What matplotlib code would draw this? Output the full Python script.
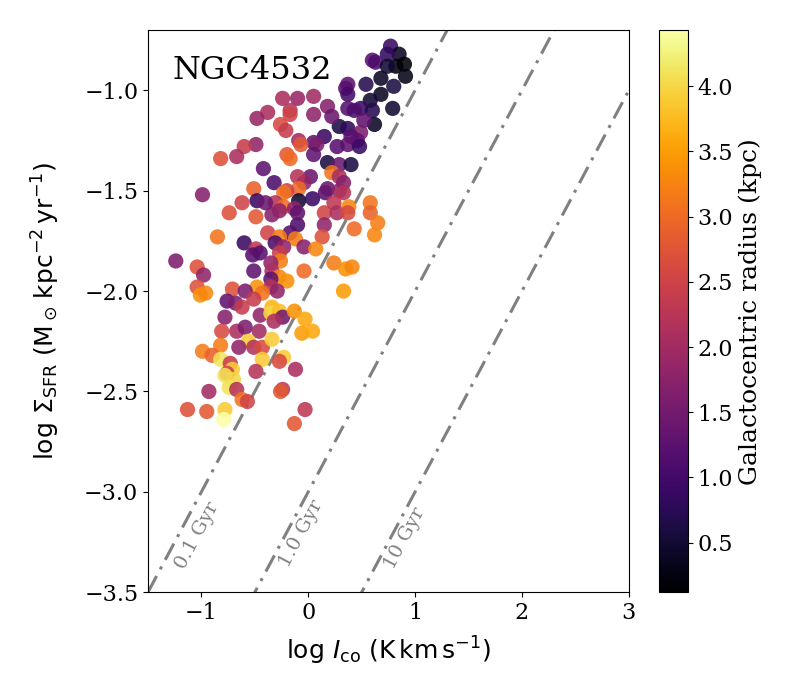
import numpy as np
import matplotlib
matplotlib.use("Agg")
import matplotlib.pyplot as plt

# log I_co, log Sigma_SFR and galactocentric radius (kpc)
log_ico = [
    0.77, 0.85, 0.74, 0.60, 0.63, 0.90, 0.82, 0.74, 0.91, 0.68,
    0.80, 0.54, 0.37, 0.35, 0.68, 0.58, 0.37, 0.79, 0.49, 0.60,
    0.37, 0.43, 0.62, 0.52, 0.29, 0.37, 0.49, 0.46, 0.40, 0.37,
    0.27, 0.48, 0.18, 0.29, 0.40, 0.15, 0.05, 0.08, 0.05, -0.24,
    -0.10, 0.05, 0.18, 0.05, 0.22, -0.17, -0.17, -0.38, -0.48, -0.26,
    -0.21, -0.09, -0.07, -0.49, -0.60, -0.67, -0.82, -0.20, -0.17, -0.42,
    -0.99, 0.22, 0.29, 0.33, 0.02, -0.04, -0.10, -0.32, -0.51, -0.09,
    -0.20, -0.23, -0.48, -0.09, 0.04, 0.16, 0.18, 0.29, 0.33, -0.31,
    -0.62, -0.23, -0.13, 0.15, 0.24, 0.27, 0.38, 0.37, 0.58, 0.58,
    0.65, -0.74, -0.49, -0.34, 0.43, 0.15, -0.10, -0.17, -0.85, -0.60,
    -0.38, -0.27, -0.12, 0.13, -0.04, 0.07, -0.31, -0.23, -0.49, -0.52,
    -0.45, -1.24, -1.04, -0.98, -0.27, -0.26, -0.35, -0.34, -0.51, -0.27,
    -0.20, -0.04, 0.24, 0.35, 0.41, 0.33, -0.35, -1.04, -1.01, -0.96,
    -0.71, -0.48, -0.35, -0.29, -0.43, -0.59, -0.51, -0.76, -0.68, -0.62,
    -0.78, -0.45, -0.34, -0.35, -0.27, -0.24, -0.32, -0.13, -0.03, -0.06,
    0.04, -0.81, -0.67, -0.59, -0.46, -0.56, -0.65, -0.51, -0.43, -0.34,
    -0.82, -0.99, -0.90, -0.82, -0.73, -0.43, -0.23, -0.27, -0.12, -0.71,
    -0.76, -0.78, -0.70, -0.49, -0.74, -0.67, -0.93, -0.62, -0.57, -0.24,
    -0.26, -1.13, -0.95, -0.78, -0.79, -0.03, -0.13, 0.62, -0.10, -0.27,
    -0.40,
]
log_sfr = [
    -0.78, -0.82, -0.82, -0.85, -0.86, -0.87, -0.88, -0.88, -0.93, -0.94,
    -0.98, -0.97, -0.97, -0.99, -1.02, -1.05, -1.02, -1.09, -1.09, -1.10,
    -1.09, -1.10, -1.17, -1.15, -1.18, -1.19, -1.21, -1.25, -1.23, -1.27,
    -1.28, -1.28, -1.36, -1.37, -1.37, -1.23, -1.26, -1.27, -1.32, -1.04,
    -1.04, -1.03, -1.08, -1.12, -1.13, -1.10, -1.12, -1.11, -1.14, -1.17,
    -1.20, -1.25, -1.27, -1.27, -1.28, -1.33, -1.34, -1.32, -1.34, -1.39,
    -1.52, -1.41, -1.43, -1.46, -1.43, -1.46, -1.43, -1.46, -1.49, -1.49,
    -1.50, -1.51, -1.55, -1.55, -1.54, -1.51, -1.49, -1.50, -1.51, -1.56,
    -1.56, -1.58, -1.59, -1.61, -1.56, -1.61, -1.58, -1.61, -1.56, -1.61,
    -1.66, -1.61, -1.63, -1.62, -1.69, -1.67, -1.67, -1.71, -1.73, -1.76,
    -1.71, -1.73, -1.74, -1.73, -1.78, -1.79, -1.76, -1.78, -1.79, -1.82,
    -1.81, -1.85, -1.88, -1.92, -1.81, -1.85, -1.86, -1.90, -1.90, -1.93,
    -1.95, -1.90, -1.86, -1.89, -1.88, -2.00, -1.94, -1.98, -2.02, -2.01,
    -1.99, -1.98, -1.98, -2.00, -2.01, -2.00, -2.04, -2.05, -2.06, -2.08,
    -2.13, -2.12, -2.08, -2.11, -2.10, -2.13, -2.15, -2.10, -2.14, -2.21,
    -2.20, -2.20, -2.20, -2.18, -2.20, -2.25, -2.28, -2.28, -2.28, -2.24,
    -2.27, -2.30, -2.32, -2.34, -2.36, -2.34, -2.33, -2.35, -2.39, -2.39,
    -2.41, -2.42, -2.44, -2.40, -2.48, -2.49, -2.50, -2.54, -2.55, -2.49,
    -2.50, -2.59, -2.60, -2.59, -2.64, -2.59, -2.66, -1.72, -1.61, -1.60,
    -1.56,
]
radius = [
    0.9, 0.4, 0.8, 1.2, 1.1, 0.12, 0.2, 0.5, 0.3, 0.4,
    0.6, 0.7, 1.3, 1.2, 0.4, 0.5, 1.0, 0.5, 0.9, 0.7,
    1.2, 1.1, 0.4, 1.3, 0.6, 0.8, 1.6, 1.3, 1.2, 1.3,
    1.2, 0.9, 0.6, 1.4, 0.6, 0.9, 1.3, 1.6, 1.3, 2.1,
    1.9, 2.0, 1.7, 1.8, 1.4, 2.2, 2.5, 2.1, 1.9, 2.6,
    2.4, 2.0, 2.8, 1.8, 2.4, 2.1, 2.7, 2.8, 3.0, 1.3,
    1.7, 3.1, 2.1, 1.7, 1.4, 1.8, 2.2, 1.1, 2.9, 3.0,
    2.5, 3.1, 0.9, 0.5, 0.9, 1.2, 1.4, 1.8, 2.2, 2.2,
    2.5, 3.0, 1.8, 2.5, 2.3, 2.1, 3.3, 2.6, 3.1, 2.9,
    3.2, 2.7, 2.8, 1.7, 3.0, 1.8, 1.1, 1.2, 3.1, 0.9,
    2.5, 3.2, 3.2, 2.7, 1.7, 3.3, 1.1, 1.8, 2.3, 1.2,
    1.2, 1.6, 2.7, 1.8, 2.4, 3.2, 1.8, 2.1, 1.3, 3.3,
    3.4, 3.0, 3.2, 3.4, 3.3, 3.5, 1.3, 2.7, 3.4, 3.3,
    2.7, 3.4, 2.2, 1.8, 3.1, 1.6, 2.4, 1.3, 1.6, 2.4,
    1.7, 1.8, 3.7, 4.0, 3.8, 1.5, 2.1, 3.4, 3.6, 3.5,
    3.6, 2.6, 2.1, 1.6, 2.0, 3.9, 1.8, 2.2, 2.6, 3.9,
    3.2, 3.2, 2.9, 4.1, 2.4, 3.9, 3.9, 2.6, 2.1, 3.9,
    2.5, 4.1, 4.0, 2.2, 4.1, 2.2, 2.0, 3.1, 2.5, 2.3,
    2.8, 2.7, 2.8, 3.9, 4.43, 2.3, 2.8, 3.3, 1.3, 1.8,
    1.4,
]

# depletion time lines: log Sigma_SFR = log I_co - offset
tdep_labels = ["0.1 Gyr", "1.0 Gyr", "10 Gyr"]
tdep_offsets = [2.0, 3.0, 4.0]
label_pos = [(-1.04, -3.22), (-0.07, -3.21), (0.90, -3.23)]

plt.rcParams["font.family"] = "DejaVu Serif"
plt.rcParams["mathtext.fontset"] = "dejavusans"

fig = plt.figure(figsize=(8, 7), dpi=100)
ax = fig.add_axes([0.185, 0.154, 0.601, 0.803])
cax = fig.add_axes([0.824, 0.154, 0.036, 0.803])

sc = ax.scatter(log_ico, log_sfr, c=radius, cmap="inferno", s=120,
                alpha=0.88, linewidths=0, zorder=3)

xx = np.array([-1.5, 3.0])
for lab, off, pos in zip(tdep_labels, tdep_offsets, label_pos):
    ax.plot(xx, xx - off, color="gray", ls=(0, (6, 2.5, 1, 2.5)), lw=2.2, zorder=2)
    ax.text(pos[0], pos[1], lab, color="gray", fontsize=14, rotation=62,
            ha="center", va="center")

ax.set_xlim(-1.5, 3.0)
ax.set_ylim(-3.5, -0.70)
ax.set_xticks([-1, 0, 1, 2, 3])
ax.set_yticks([-3.5, -3.0, -2.5, -2.0, -1.5, -1.0])
ax.tick_params(labelsize=16)

ax.text(0.05, 0.955, "NGC4532", transform=ax.transAxes, fontsize=23,
        ha="left", va="top")

ax.set_xlabel(r"log $I_{\rm co}$ (K$\,$km$\,$s$^{-1}$)", fontsize=18,
              family="DejaVu Sans", labelpad=8)
ax.set_ylabel(r"log $\Sigma_{\rm SFR}$ $({\rm M_\odot\,kpc^{-2}\,yr^{-1}})$",
              fontsize=18, family="DejaVu Sans", labelpad=16)

cb = fig.colorbar(sc, cax=cax)
cb.solids.set_alpha(1)
cb.set_label("Galactocentric radius (kpc)", fontsize=18)
cb.ax.tick_params(labelsize=16)

fig.savefig("out.png", dpi=100)
